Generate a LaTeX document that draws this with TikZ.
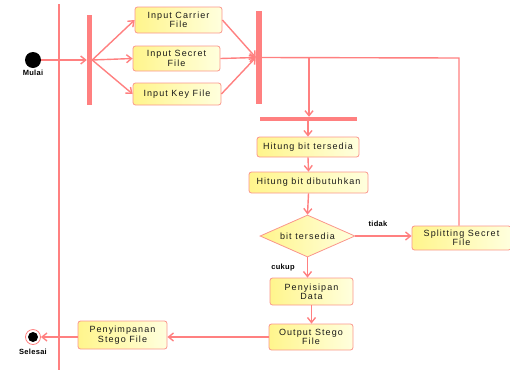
\documentclass[tikz,border=0pt]{standalone}
\usepackage{fontspec}
\setmainfont{Liberation Sans}
\newfontfamily\boxfont[LetterSpace=12]{Liberation Sans}
\newfontfamily\tagfont[LetterSpace=4]{Liberation Sans}
\usetikzlibrary{arrows.meta,shapes.geometric}
\definecolor{flow}{RGB}{255,128,128}
\definecolor{boxedge}{RGB}{250,150,140}
\definecolor{boxleft}{RGB}{255,245,140}
\definecolor{boxright}{RGB}{255,255,222}

\tikzset{
  act/.style={draw=boxedge, line width=0.8pt, rounded corners=2.5pt,
    left color=boxleft, right color=boxright, text=black!90,
    font=\boxfont\fontsize{9}{9.4}\selectfont, align=center, inner sep=0pt},
  bar/.style={fill=flow, draw=none, inner sep=0pt, rectangle},
  flowline/.style={draw=flow, line width=1.4pt},
  arr/.style={flowline, -{Straight Barb[length=5pt,width=8pt]}},
  tag/.style={font=\tagfont\bfseries\fontsize{7.5}{8}\selectfont, inner sep=0pt}
}

\begin{document}
\begin{tikzpicture}[x=1pt,y=-1pt]
\useasboundingbox (0,0) rectangle (510,370);

% swimlane divider
\draw[draw=flow, line width=1.2pt] (59,4) -- (59,370);

% start and end states
\node[circle, fill=black, minimum size=16pt, inner sep=0pt] (start) at (33,60) {};
\node[tag] (mulai) at (33,73) {Mulai};
\node[circle, draw=flow, fill=white, line width=0.8pt, minimum size=15pt, inner sep=0pt] (finish) at (33,337) {};
\node[circle, fill=black, minimum size=10pt, inner sep=0pt] (finishdot) at (finish) {};
\node[tag] (selesai) at (33,352) {Selesai};

% synchronisation bars
\node[bar, minimum width=5pt, minimum height=90pt] (fork) at (89.5,60) {};
\node[bar, minimum width=6pt, minimum height=93pt] (join) at (259,57.5) {};
\node[bar, minimum width=97pt, minimum height=4pt] (hbar) at (308.5,119) {};

% activities
\node[act, minimum width=87pt, minimum height=26pt] (carrier) at (178.5,20) {Input Carrier\\File};
\node[act, minimum width=87pt, minimum height=25pt] (secret) at (176.5,58.5) {Input Secret\\File};
\node[act, minimum width=88pt, minimum height=22pt] (key) at (177,94) {Input Key File};
\node[act, minimum width=102pt, minimum height=20pt] (tersedia) at (308,147) {Hitung bit tersedia};
\node[act, minimum width=119pt, minimum height=21pt] (butuh) at (308.5,182.5) {Hitung bit dibutuhkan};
\node[act, diamond, rounded corners=0pt, aspect=2.3, minimum width=95pt, minimum height=42pt] (cek) at (307.5,236) {bit tersedia};
\node[act, minimum width=99pt, minimum height=24pt] (split) at (461.5,238) {Splitting Secret\\File};
\node[act, minimum width=83pt, minimum height=27pt] (sisip) at (311.5,291.5) {Penyisipan\\Data};
\node[act, minimum width=84pt, minimum height=26pt] (output) at (311,337) {Output Stego\\File};
\node[act, minimum width=89pt, minimum height=28pt] (simpan) at (122.5,335) {Penyimpanan\\Stego File};

% flows
\draw[arr] (start.east) -- (fork.west |- start);
\draw[arr] (fork.east |- start) -- (carrier.west);
\draw[arr] (fork.east |- start) -- (secret.west);
\draw[arr] (fork.east |- start) -- (key.west);
\draw[arr] (carrier.east) -- (join.west);
\draw[arr] (secret.east) -- (join.west);
\draw[arr] (key.east) -- (join.west);

\coordinate (tap) at (309,58);
\coordinate (turn) at (459,58);
\draw[flowline] (join.east) -- (turn) -- (split.north -| turn);
\draw[arr] (tap) -- (hbar.north -| tap);
\draw[arr] (hbar.south -| tersedia) -- (tersedia.north);
\draw[arr] (tersedia.south) -- (butuh.north);
\draw[arr] (butuh.south) -- (cek.north);
\draw[arr] (cek.east) -- (split.west |- cek);
\node[tag] (tidak) at (378,224) {tidak};
\draw[arr] (cek.south) -- (cek.south |- sisip.north);
\node[tag] (cukup) at (283,268) {cukup};
\draw[arr] (sisip.south) -- (sisip.south |- output.north);
\draw[arr] (output.west) -- (simpan.east |- output);
\draw[arr] (simpan.west |- output) -- (finish.east);
\end{tikzpicture}
\end{document}
